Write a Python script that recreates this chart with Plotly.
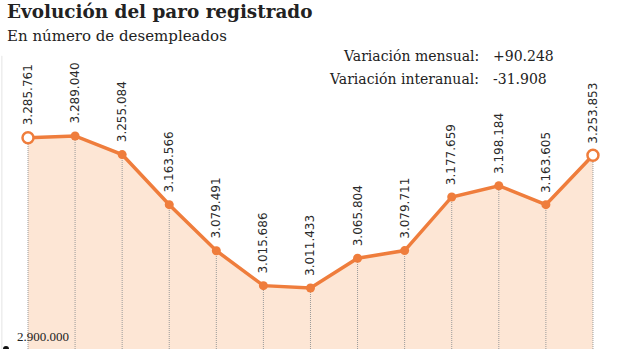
import plotly.graph_objects as go

# Data
idx = list(range(13))
values = [3285761, 3289040, 3255084, 3163566, 3079491, 3015686, 3011433,
          3065804, 3079711, 3177659, 3198184, 3163605, 3253853]
value_labels = ["3.285.761", "3.289.040", "3.255.084", "3.163.566", "3.079.491",
                "3.015.686", "3.011.433", "3.065.804", "3.079.711", "3.177.659",
                "3.198.184", "3.163.605", "3.253.853"]
y_base = 2900000
base_label = "2.900.000"
title = "Evolución del paro registrado"
subtitle = "En número de desempleados"
var_names = ["Variación mensual:", "Variación interanual:"]
var_values = ["+90.248", "-31.908"]

ORANGE = "#ef7d3c"
FILL = "#fde6d5"

fig = go.Figure()

# area fill
fig.add_trace(go.Scatter(x=idx, y=values, mode="none", fill="tozeroy",
                         fillcolor=FILL, hoverinfo="skip", showlegend=False))

# dotted droplines
dx, dy = [], []
for i, v in zip(idx, values):
    dx += [i, i, None]
    dy += [y_base, v, None]
fig.add_trace(go.Scatter(x=dx, y=dy, mode="lines",
                         line=dict(color="#9a9a9a", width=1, dash="1px,1px"),
                         hoverinfo="skip", showlegend=False))

# main line
fig.add_trace(go.Scatter(x=idx, y=values, mode="lines+markers",
                         line=dict(color=ORANGE, width=3.5),
                         marker=dict(size=9, color=ORANGE),
                         showlegend=False))

# open end markers
ends = [0, len(idx) - 1]
fig.add_trace(go.Scatter(x=[idx[i] for i in ends], y=[values[i] for i in ends],
                         mode="markers",
                         marker=dict(size=11, color="white",
                                     line=dict(color=ORANGE, width=2.5)),
                         showlegend=False))

TXT = "#222222"
annotations = []
for i, v, t in zip(idx, values, value_labels):
    annotations.append(dict(x=i, y=v, text=t, showarrow=False, textangle=-90,
                            xanchor="center", yanchor="bottom", yshift=10,
                            font=dict(family="DejaVu Sans", size=12, color="#2a2a2a")))

annotations.append(dict(x=15 / 620, y=y_base, xref="paper", yref="y", text=base_label,
                        showarrow=False, xanchor="left", yanchor="bottom", yshift=3,
                        font=dict(family="Liberation Serif", size=13, color=TXT)))

annotations.append(dict(x=0.008, y=1.0, xref="paper", yref="paper", text="<b>" + title + "</b>",
                        showarrow=False, xanchor="left", yanchor="top", yshift=1,
                        font=dict(family="DejaVu Serif", size=18.4, color=TXT)))
annotations.append(dict(x=0.008, y=1.0, xref="paper", yref="paper", text=subtitle,
                        showarrow=False, xanchor="left", yanchor="top", yshift=-25,
                        font=dict(family="DejaVu Serif", size=15, color=TXT)))
for k, n in enumerate(var_names):
    annotations.append(dict(x=481 / 620, y=1.0, xref="paper", yref="paper", text=n,
                            showarrow=False, xanchor="right", yanchor="top",
                            yshift=-46 - 23 * k,
                            font=dict(family="DejaVu Serif", size=14, color=TXT)))
for k, val in enumerate(var_values):
    annotations.append(dict(x=491 / 620, y=1.0, xref="paper", yref="paper", text=val,
                            showarrow=False, xanchor="left", yanchor="top",
                            yshift=-46 - 23 * k,
                            font=dict(family="DejaVu Serif", size=14, color=TXT)))

px_per_unit = 47.08
fig.update_layout(
    width=620, height=349,
    margin=dict(l=0, r=0, t=0, b=0),
    paper_bgcolor="white", plot_bgcolor="white",
    xaxis=dict(range=[-28 / px_per_unit, (620 - 28) / px_per_unit], visible=False,
               fixedrange=True),
    yaxis=dict(range=[y_base, y_base + 349 / 0.0005476], visible=False, fixedrange=True),
    annotations=annotations,
    shapes=[
        dict(type="line", xref="paper", yref="paper", x0=0.003, x1=0.003,
             y0=0, y1=0.84, line=dict(color="#e4e4e4", width=1)),
        dict(type="circle", xref="paper", yref="paper", x0=3 / 620, x1=9 / 620,
             y0=-3 / 349, y1=3 / 349, fillcolor="#111111", line=dict(width=0)),
    ],
)

fig.write_html("out.html")
